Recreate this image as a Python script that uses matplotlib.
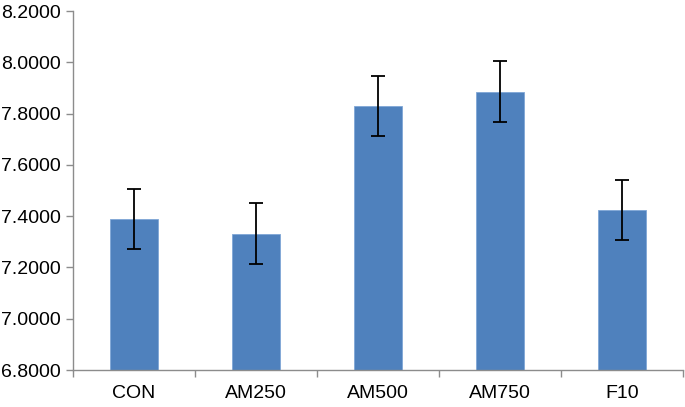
import numpy as np
import matplotlib.pyplot as plt
import matplotlib.ticker as ticker

categories = ['CON', 'AM250', 'AM500', 'AM750', 'F10']
means = [7.389, 7.332, 7.830, 7.886, 7.424]
errors = [0.118, 0.118, 0.118, 0.118, 0.118]

g_axiscolor = '#8c8c8c'
g_barcolor = '#4f81bd'

plt.rcParams['font.family'] = ['Liberation Sans', 'DejaVu Sans']

fig = plt.figure(figsize=(6.85, 4.07), dpi=100)
ax = fig.add_axes([0.1066, 0.0909, 0.8904, 0.882])

index = np.arange(len(categories))
ax.bar(index, means, 0.4, bottom=0, color=g_barcolor, edgecolor='#7fa6d6',
       linewidth=0.6, zorder=2)
ax.errorbar(index, means, yerr=errors, fmt='none', ecolor='black',
            elinewidth=1.3, capsize=5, capthick=1.3, zorder=3)

ax.set_ylim(6.8, 8.2)
ax.set_xlim(-0.5, len(categories) - 0.5)
ax.yaxis.set_major_locator(ticker.MultipleLocator(0.2))
ax.yaxis.set_major_formatter(ticker.FormatStrFormatter('%.4f'))

ax.set_xticks(index)
ax.set_xticklabels(categories)
ax.set_xticks(np.arange(-0.5, len(categories)), minor=True)
ax.tick_params(axis='x', which='major', length=0, pad=11, labelsize=14)
ax.tick_params(axis='x', which='minor', length=5, color=g_axiscolor, width=1)
ax.tick_params(axis='y', which='major', length=5, color=g_axiscolor, width=1,
               labelsize=14, pad=4)

for side in ['top', 'right']:
    ax.spines[side].set_visible(False)
for side in ['left', 'bottom']:
    ax.spines[side].set_color(g_axiscolor)
    ax.spines[side].set_linewidth(1)

fig.savefig('out.png', dpi=100)
